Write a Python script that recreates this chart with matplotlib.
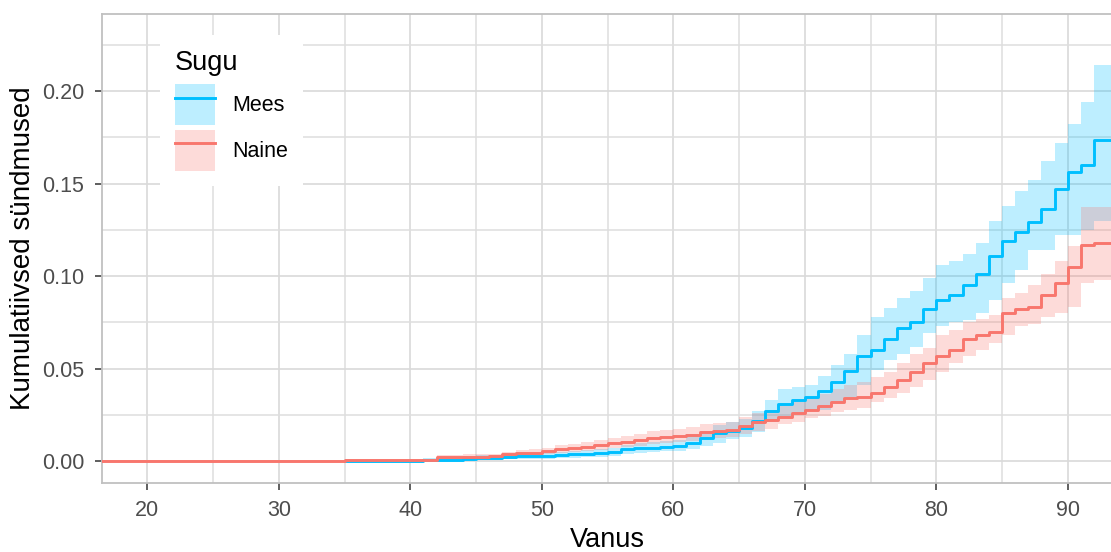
import matplotlib
matplotlib.use("Agg")
import matplotlib.pyplot as plt
import numpy as np
from matplotlib.lines import Line2D
from matplotlib.patches import Patch
from matplotlib.ticker import MultipleLocator

plt.rcParams["font.family"] = ["Liberation Sans", "DejaVu Sans"]

# cumulative incidence by age (step function, value holds until next age)
mees_age = np.arange(35, 95)
mees_est = [0, 0, 0, 0, 0, 0,
            0.0007, 0.0007, 0.001, 0.0015, 0.002, 0.002, 0.0025, 0.0027, 0.0027, 0.003,
            0.0032, 0.0038, 0.0042, 0.0046, 0.005, 0.0065, 0.007, 0.0075, 0.008, 0.0085,
            0.010, 0.0125, 0.0155, 0.0165, 0.018, 0.022, 0.027, 0.031, 0.033, 0.035,
            0.038, 0.043, 0.049, 0.057, 0.060, 0.066, 0.072, 0.075, 0.082, 0.087,
            0.090, 0.095, 0.101, 0.111, 0.119, 0.124, 0.129, 0.136, 0.147, 0.156,
            0.160, 0.1736, 0.1736, 0.1736]
mees_hi = [0.0008, 0.0008, 0.0008, 0.0008, 0.0008, 0.0008,
           0.0018, 0.0018, 0.0022, 0.0028, 0.0034, 0.0035, 0.004, 0.0043, 0.0044, 0.0048,
           0.005, 0.0057, 0.0062, 0.0067, 0.0073, 0.009, 0.0097, 0.0103, 0.011, 0.0117,
           0.015, 0.0165, 0.0195, 0.021, 0.0228, 0.027, 0.033, 0.039, 0.040, 0.041,
           0.046, 0.052, 0.058, 0.068, 0.078, 0.083, 0.088, 0.092, 0.099, 0.106,
           0.108, 0.112, 0.118, 0.130, 0.138, 0.146, 0.152, 0.162, 0.172, 0.182,
           0.194, 0.214, 0.214, 0.214]
mees_lo = [0, 0, 0, 0, 0, 0,
           0.0002, 0.0002, 0.0003, 0.0006, 0.0009, 0.0009, 0.0012, 0.0013, 0.0013, 0.0015,
           0.0016, 0.002, 0.0023, 0.0026, 0.003, 0.0042, 0.0046, 0.005, 0.0054, 0.0057,
           0.0065, 0.0085, 0.010, 0.012, 0.013, 0.0156, 0.021, 0.0235, 0.026, 0.027,
           0.028, 0.032, 0.035, 0.041, 0.0496, 0.055, 0.058, 0.062, 0.0695, 0.073,
           0.075, 0.0765, 0.080, 0.087, 0.0965, 0.1035, 0.114, 0.114, 0.122, 0.122,
           0.125, 0.13, 0.13, 0.13]

naine_age = np.concatenate([[15], np.arange(35, 95)])
naine_est = [0,
             0.0007, 0.0007, 0.0007, 0.0007, 0.0007, 0.0007, 0.0007,
             0.0022, 0.0024, 0.0025, 0.0026, 0.0028, 0.0038, 0.0045, 0.0048, 0.0055,
             0.0065, 0.007, 0.008, 0.0088, 0.0098, 0.0105, 0.0115, 0.0128, 0.0133, 0.0138,
             0.0145, 0.016, 0.0165, 0.017, 0.019, 0.021, 0.0226, 0.024, 0.026, 0.028,
             0.0297, 0.032, 0.034, 0.035, 0.037, 0.040, 0.044, 0.048, 0.053, 0.057,
             0.060, 0.066, 0.068, 0.070, 0.080, 0.082, 0.0836, 0.090, 0.0965, 0.105,
             0.117, 0.118, 0.118, 0.118]
naine_hi = [0,
            0.0015, 0.0015, 0.0015, 0.0015, 0.0015, 0.0015, 0.0015,
            0.0035, 0.0037, 0.0038, 0.004, 0.0042, 0.0053, 0.0062, 0.0066, 0.0075,
            0.0088, 0.0094, 0.0106, 0.0116, 0.0128, 0.0136, 0.0148, 0.0163, 0.0169, 0.0175,
            0.0185, 0.0202, 0.0208, 0.0214, 0.0237, 0.0262, 0.028, 0.0297, 0.032, 0.0345,
            0.0365, 0.0392, 0.0415, 0.0426, 0.0455, 0.048, 0.053, 0.058, 0.061, 0.068,
            0.071, 0.075, 0.077, 0.079, 0.088, 0.091, 0.095, 0.101, 0.108, 0.116,
            0.1375, 0.1375, 0.1375, 0.1375]
naine_lo = [0,
            0.0001, 0.0001, 0.0001, 0.0001, 0.0001, 0.0001, 0.0001,
            0.0012, 0.0013, 0.0014, 0.0015, 0.0016, 0.0025, 0.003, 0.0033, 0.0038,
            0.0045, 0.0049, 0.0057, 0.0063, 0.0071, 0.0077, 0.0085, 0.0095, 0.0099, 0.0103,
            0.011, 0.0122, 0.0126, 0.013, 0.0146, 0.0163, 0.0176, 0.020, 0.021, 0.0232,
            0.0245, 0.0265, 0.028, 0.029, 0.032, 0.034, 0.037, 0.040, 0.044, 0.048,
            0.053, 0.057, 0.06, 0.064, 0.068, 0.073, 0.074, 0.078, 0.080, 0.0836,
            0.0965, 0.098, 0.098, 0.098]

groups = ["Mees", "Naine"]
colors = {"Mees": "#00BFFF", "Naine": "#F8766D"}

fig = plt.figure(figsize=(11.11, 5.52), dpi=100)
ax = fig.add_axes([101.7 / 1111, 1 - 482.7 / 552, (1113 - 101.7) / 1111, (482.7 - 14) / 552])

series = {
    "Mees": (mees_age, mees_est, mees_lo, mees_hi),
    "Naine": (naine_age, naine_est, naine_lo, naine_hi),
}
for g in groups:
    age, est, lo, hi = series[g]
    ax.fill_between(age, lo, hi, step="post", color=colors[g], alpha=0.26, lw=0, zorder=2)
for g in groups:
    age, est, lo, hi = series[g]
    ax.step(age, est, where="post", color=colors[g], lw=2.1, zorder=3)

ax.set_xlim(16.53, 93.44)
ax.set_ylim(-0.0115, 0.2415)
ax.xaxis.set_major_locator(MultipleLocator(10))
ax.xaxis.set_minor_locator(MultipleLocator(5))
ax.yaxis.set_major_locator(MultipleLocator(0.05))
ax.yaxis.set_minor_locator(MultipleLocator(0.025))
ax.yaxis.set_major_formatter(plt.FuncFormatter(lambda v, p: f"{v:.2f}"))

ax.grid(which="major", color="#D9D9D9", lw=1.2, zorder=0)
ax.grid(which="minor", color="#DEDEDE", lw=1.1, zorder=0)
ax.set_axisbelow(True)
for s in ax.spines.values():
    s.set_color("#C0C0C0")
    s.set_linewidth(1.3)

ax.tick_params(which="major", length=5, width=1.1, color="#333333",
               labelsize=15.5, labelcolor="#4D4D4D", pad=7.5)
ax.tick_params(which="minor", length=0)

ax.set_xlabel("Vanus", fontsize=19.5, color="black", labelpad=4)
ax.set_ylabel("Kumulatiivsed sündmused", fontsize=20, color="black", labelpad=4)

handles = [(Patch(facecolor=colors[g], alpha=0.26, lw=0),
            Line2D([], [], color=colors[g], lw=2.1)) for g in groups]
leg = ax.legend(handles, groups, title="Sugu", loc="upper left",
                bbox_to_anchor=(160 / 1111, 1 - 35 / 552), bbox_transform=fig.transFigure,
                fontsize=15.5, title_fontsize=19.5, frameon=True, fancybox=False,
                framealpha=1, edgecolor="white", borderpad=0.7, borderaxespad=0,
                handlelength=1.85, handleheight=2.55, handletextpad=0.8,
                labelspacing=0.2, alignment="left")
leg.get_frame().set_linewidth(0)
leg._legend_box.sep = 6

fig.savefig("out.png", dpi=100)
